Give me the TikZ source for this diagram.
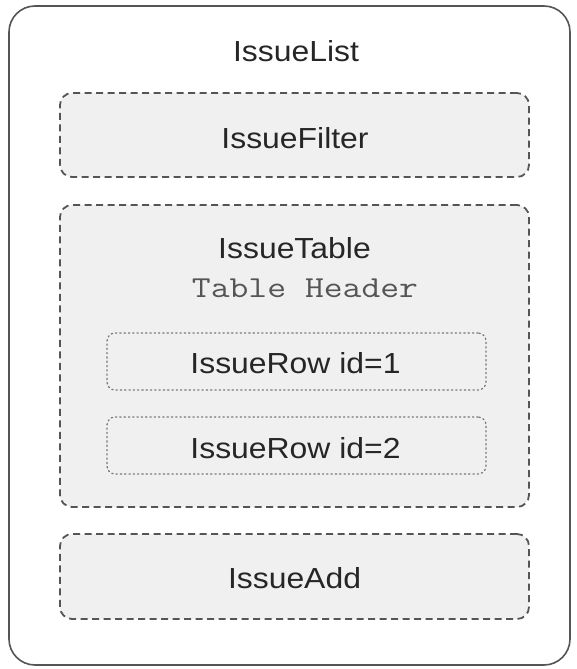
\documentclass[tikz,border=0pt]{standalone}
\usepackage{fontspec}
\setmainfont[FakeStretch=1.1]{Liberation Sans}
\newfontfamily\codefont[FakeStretch=1.2]{Latin Modern Mono}
\definecolor{boxfill}{HTML}{F0F0F0}
\definecolor{edge}{HTML}{555555}
\definecolor{codegray}{HTML}{555555}
\tikzset{
  outerbox/.style={draw=edge, line width=1.6pt, fill=white, rounded corners=26pt, inner sep=0pt},
  dashbox/.style={draw=edge, line width=1.8pt, fill=boxfill, rounded corners=12pt, dash pattern=on 7pt off 4.5pt, inner sep=0pt},
  dotbox/.style={draw=edge!80, line width=1.3pt, fill=boxfill, rounded corners=8pt, dash pattern=on 1.3pt off 3pt, line cap=round, inner sep=0pt},
  label/.style={anchor=base, inner sep=0pt, font=\fontsize{29}{34}\selectfont, text=black!85},
  codelabel/.style={anchor=base, inner sep=0pt, font=\codefont\fontsize{30.5}{36}\selectfont, text=codegray}
}
\begin{document}
\begin{tikzpicture}[x=1pt,y=-1pt]
\useasboundingbox (0,0) rectangle (577,669);
\node[outerbox, minimum width=561pt, minimum height=659pt] (list) at (289.5,335.5) {};
\node[label] (listlabel) at (296,62) {IssueList};
\node[dashbox, minimum width=469pt, minimum height=84pt] (filter) at (294.5,135) {};
\node[label] (filterlabel) at (295,148) {IssueFilter};
\node[dashbox, minimum width=469pt, minimum height=302pt] (table) at (294.5,356) {};
\node[label] (tablelabel) at (294.5,258) {IssueTable};
\node[codelabel] (header) at (305,297) {Table Header};
\node[dotbox, minimum width=379pt, minimum height=57pt] (row1) at (296.5,361.5) {};
\node[label] (row1label) at (295.5,373) {IssueRow id=1};
\node[dotbox, minimum width=379pt, minimum height=57pt] (row2) at (296.5,445.5) {};
\node[label] (row2label) at (295.5,458) {IssueRow id=2};
\node[dashbox, minimum width=469pt, minimum height=85pt] (add) at (294.5,576.5) {};
\node[label] (addlabel) at (294.5,588) {IssueAdd};
\end{tikzpicture}
\end{document}
